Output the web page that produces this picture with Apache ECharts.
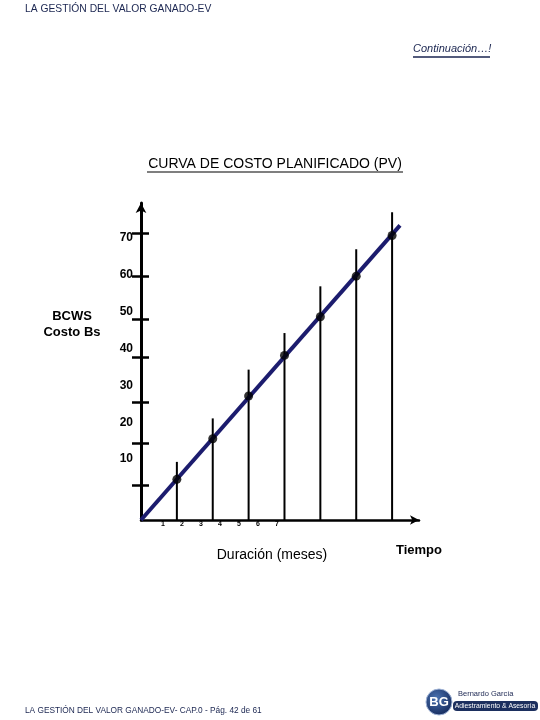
<!DOCTYPE html>
<html><head><meta charset="utf-8">
<script src="https://cdn.jsdelivr.net/npm/echarts@6/dist/echarts.min.js"></script>
<style>html,body{margin:0;padding:0;background:#fff}#c{width:540px;height:720px}</style>
</head><body><div id="c"></div>
<script>
// ---- data ----
var months = [1, 2, 3, 4, 5, 6, 7];
var pvValues = [10, 20, 30.5, 40.5, 50, 60, 70];
var guideTops = [14.3, 25, 37, 46, 57.5, 66.6, 75.7];
var curveX = [0, 7.22];
var curveY = [0, 72.5];
var yTickMarks = [8.5, 19, 29, 40, 49.5, 60, 70.5];
var yTickLabels = [10, 20, 30, 40, 50, 60, 70];
var xTickLabels = [1, 2, 3, 4, 5, 6, 7];

var chart = echarts.init(document.getElementById('c'), null, {renderer: 'canvas'});
var FONT = 'Liberation Sans, Arial, sans-serif';
var NAVY = '#1a2550';

var option = {
  backgroundColor: '#ffffff',
  animation: false,
  grid: [
    {left: 141, top: 203, width: 278, height: 317},
    {left: 141, top: 201, width: 10, height: 295},
    {left: 144, top: 500, width: 152, height: 20}
  ],
  xAxis: [
    {gridIndex: 0, type: 'value', min: 0, max: 7.75,
     axisLine: {show: true, symbol: ['none', 'arrow'], symbolSize: [7, 9], lineStyle: {color: '#000', width: 2.5}},
     axisTick: {show: false}, axisLabel: {show: false}, splitLine: {show: false}},
    {gridIndex: 1, type: 'value', min: 0, max: 1, show: false},
    {gridIndex: 2, type: 'value', min: 0, max: 8, interval: 1,
     axisLine: {show: false}, axisTick: {show: false}, splitLine: {show: false},
     axisLabel: {show: true, margin: 1, fontSize: 7, fontWeight: 'bold', color: '#000', fontFamily: FONT,
       formatter: function (v) { return xTickLabels.indexOf(v) >= 0 ? String(v) : ''; }}}
  ],
  yAxis: [
    {gridIndex: 0, type: 'value', min: 0, max: 78, position: 'left',
     axisLine: {show: true, symbol: ['none', 'arrow'], symbolSize: [8, 10], lineStyle: {color: '#000', width: 3}},
     axisTick: {show: true, inside: false, length: 9, customValues: yTickMarks, lineStyle: {color: '#000', width: 2.5}},
     axisLabel: {show: false}, splitLine: {show: false}},
    {gridIndex: 0, type: 'value', min: 0, max: 78, position: 'left',
     axisLine: {show: false},
     axisTick: {show: true, inside: true, length: 8, customValues: yTickMarks, lineStyle: {color: '#000', width: 2.5}},
     axisLabel: {show: false}, splitLine: {show: false}},
    {gridIndex: 1, type: 'value', min: 0, max: 80, interval: 10, position: 'left',
     axisLine: {show: false}, axisTick: {show: false}, splitLine: {show: false},
     axisLabel: {show: true, margin: 8, fontSize: 12, fontWeight: 'bold', color: '#000',
       fontFamily: 'Liberation Sans Narrow, Liberation Sans, Arial, sans-serif',
       formatter: function (v) { return yTickLabels.indexOf(v) >= 0 ? String(v) : ''; }}},
    {gridIndex: 2, type: 'value', min: 0, max: 1, show: false}
  ],
  series: [
    {type: 'bar', xAxisIndex: 0, yAxisIndex: 0, barWidth: 2, z: 1,
     itemStyle: {color: '#000'}, silent: true,
     data: months.map(function (m, i) { return [m, guideTops[i]]; })},
    {type: 'line', xAxisIndex: 0, yAxisIndex: 0, z: 3, symbol: 'none',
     lineStyle: {color: '#1c1c6e', width: 4}, silent: true,
     data: curveX.map(function (x, i) { return [x, curveY[i]]; })},
    {type: 'scatter', xAxisIndex: 0, yAxisIndex: 0, z: 4, symbol: 'circle', symbolSize: 9,
     itemStyle: {color: '#000'}, silent: true,
     data: months.map(function (m, i) { return [m, pvValues[i]]; })}
  ],
  graphic: [
    {type: 'text', left: 25, top: 4, style: {text: 'LA GESTIÓN DEL VALOR GANADO-EV', font: '10.3px ' + FONT, fill: NAVY}},
    {type: 'text', left: 413, top: 43, style: {text: 'Continuación…!', font: 'italic 11px ' + FONT, fill: NAVY}},
    {type: 'line', shape: {x1: 413, y1: 57, x2: 490, y2: 57}, style: {stroke: NAVY, lineWidth: 1.5}},
    {type: 'text', x: 275, y: 164, style: {text: 'CURVA DE COSTO PLANIFICADO (PV)', font: '14px ' + FONT, fill: '#000', align: 'center', verticalAlign: 'middle'}},
    {type: 'line', shape: {x1: 147, y1: 172, x2: 403, y2: 172}, style: {stroke: '#000', lineWidth: 1.2}},
    {type: 'text', x: 72, y: 316, style: {text: 'BCWS', font: 'bold 13px ' + FONT, fill: '#000', align: 'center', verticalAlign: 'middle'}},
    {type: 'text', x: 72, y: 332, style: {text: 'Costo Bs', font: 'bold 13px ' + FONT, fill: '#000', align: 'center', verticalAlign: 'middle'}},
    {type: 'text', x: 272, y: 555, style: {text: 'Duración (meses)', font: '14px ' + FONT, fill: '#000', align: 'center', verticalAlign: 'middle'}},
    {type: 'text', x: 419, y: 550, style: {text: 'Tiempo', font: 'bold 13px ' + FONT, fill: '#000', align: 'center', verticalAlign: 'middle'}},
    {type: 'text', left: 25, top: 707, style: {text: 'LA GESTIÓN DEL VALOR GANADO-EV- CAP.0 - Pág. 42 de 61', font: '8.3px ' + FONT, fill: NAVY}},
    {type: 'circle', shape: {cx: 439, cy: 702, r: 13}, style: {fill: {type: 'radial', x: 0.4, y: 0.35, r: 0.7, colorStops: [{offset: 0, color: '#4a72b0'}, {offset: 1, color: '#13285a'}]}, stroke: '#9fb3d6', lineWidth: 1}},
    {type: 'text', x: 439, y: 702, style: {text: 'BG', font: 'bold 13px ' + FONT, fill: '#fff', align: 'center', verticalAlign: 'middle'}},
    {type: 'text', left: 458, top: 690, style: {text: 'Bernardo García', font: '7.5px ' + FONT, fill: NAVY}},
    {type: 'rect', shape: {x: 453, y: 701, width: 85, height: 10, r: 4}, style: {fill: '#1c2f5e'}},
    {type: 'text', x: 495, y: 706, style: {text: 'Adiestramiento & Asesoría', font: '6.8px ' + FONT, fill: '#fff', align: 'center', verticalAlign: 'middle'}}
  ]
};
chart.setOption(option);
</script>
</body></html>
